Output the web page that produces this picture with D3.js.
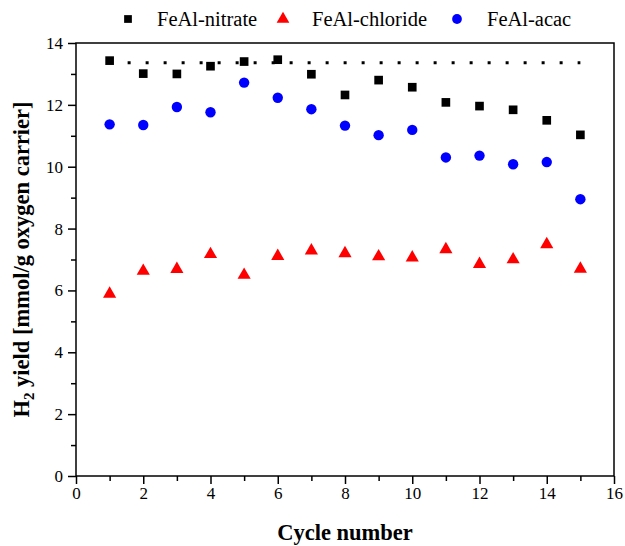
<!DOCTYPE html>
<html>
<head>
<meta charset="utf-8">
<script src="https://cdn.jsdelivr.net/npm/d3@7"></script>
<style>
  body { margin: 0; background: #fff; }
  text { font-family: "Liberation Serif", "Times New Roman", serif; }
</style>
</head>
<body>
<div id="chart"></div>
<script>
// Data
const cycles = [1, 2, 3, 4, 5, 6, 7, 8, 9, 10, 11, 12, 13, 14, 15];
const nitrate = [13.43, 13.01, 13.0, 13.25, 13.4, 13.46, 12.99, 12.32, 12.8, 12.57, 12.08, 11.96, 11.84, 11.5, 11.03];
const chloride = [5.92, 6.66, 6.72, 7.2, 6.53, 7.14, 7.32, 7.23, 7.13, 7.09, 7.36, 6.88, 7.03, 7.52, 6.73];
const acac = [11.37, 11.35, 11.93, 11.76, 12.72, 12.23, 11.86, 11.33, 11.02, 11.19, 10.3, 10.36, 10.08, 10.15, 8.95];
const refLine = [[1, 13.36], [15, 13.36]];
const xTicks = [0, 2, 4, 6, 8, 10, 12, 14, 16];
const yTicks = [0, 2, 4, 6, 8, 10, 12, 14];
const seriesNames = ['FeAl-nitrate', 'FeAl-chloride', 'FeAl-acac'];

const width = 625;
const height = 546;
const margin = { top: 43, right: 11, bottom: 70, left: 76 };

const svg = d3.select('#chart')
  .append('svg')
  .attr('width', width)
  .attr('height', height);

const x = d3.scaleLinear()
  .domain([0, 16])
  .range([margin.left, width - margin.right]);

const y = d3.scaleLinear()
  .domain([0, 14])
  .range([height - margin.bottom, margin.top]);

// Frame
svg.append('rect')
  .attr('x', x(0))
  .attr('y', y(14))
  .attr('width', x(16) - x(0))
  .attr('height', y(0) - y(14))
  .attr('fill', 'none')
  .attr('stroke', '#000')
  .attr('stroke-width', 1.5);

// Minor ticks
const xAxisMinor = d3.axisBottom(x).tickValues(d3.range(1, 16, 2)).tickSize(5).tickFormat('');
const yAxisMinor = d3.axisLeft(y).tickValues(d3.range(1, 14, 2)).tickSize(5).tickFormat('');

svg.append('g')
  .attr('transform', `translate(0,${y(0)})`)
  .call(xAxisMinor)
  .call(g => g.select('.domain').remove())
  .selectAll('line').attr('stroke-width', 1.5);

svg.append('g')
  .attr('transform', `translate(${x(0)},0)`)
  .call(yAxisMinor)
  .call(g => g.select('.domain').remove())
  .selectAll('line').attr('stroke-width', 1.5);

// Major ticks
const xAxis = d3.axisBottom(x).tickValues(xTicks).tickSize(8).tickPadding(3);
const yAxis = d3.axisLeft(y).tickValues(yTicks).tickSize(8).tickPadding(5);

const gx = svg.append('g')
  .attr('transform', `translate(0,${y(0)})`)
  .call(xAxis);
gx.select('.domain').remove();
gx.selectAll('line').attr('stroke-width', 1.5);
gx.selectAll('text')
  .attr('font-size', 17)
  .attr('font-family', '"Liberation Serif", serif')
  .attr('fill', '#000');

const gy = svg.append('g')
  .attr('transform', `translate(${x(0)},0)`)
  .call(yAxis);
gy.select('.domain').remove();
gy.selectAll('line').attr('stroke-width', 1.5);
gy.selectAll('text')
  .attr('font-size', 17)
  .attr('font-family', '"Liberation Serif", serif')
  .attr('fill', '#000');

// Axis titles
svg.append('text')
  .attr('x', (x(0) + x(16)) / 2)
  .attr('y', 540)
  .attr('text-anchor', 'middle')
  .attr('font-size', 22.5)
  .attr('font-weight', 'bold')
  .text('Cycle number');

const yTitle = svg.append('text')
  .attr('transform', `translate(29,${(y(0) + y(14)) / 2}) rotate(-90)`)
  .attr('text-anchor', 'middle')
  .attr('font-size', 22.5)
  .attr('font-weight', 'bold');
yTitle.append('tspan').text('H');
yTitle.append('tspan').attr('font-size', 15).attr('dy', 5).text('2');
yTitle.append('tspan').attr('dy', -5).text(' yield [mmol/g oxygen carrier]');

// Dotted reference line
svg.append('path')
  .datum(refLine)
  .attr('d', d3.line().x(d => x(d[0])).y(d => y(d[1])))
  .attr('fill', 'none')
  .attr('stroke', '#000')
  .attr('stroke-width', 3)
  .attr('stroke-dasharray', '3,15');

// Symbols
const square = d3.symbol().type(d3.symbolSquare).size(75);
const triangle = d3.symbol().type(d3.symbolTriangle).size(75);
const circle = d3.symbol().type(d3.symbolCircle).size(85);

svg.append('g').selectAll('path')
  .data(cycles)
  .enter()
  .append('path')
  .attr('d', square)
  .attr('transform', (d, i) => `translate(${x(d)},${y(nitrate[i])})`)
  .attr('fill', '#000');

svg.append('g').selectAll('path')
  .data(cycles)
  .enter()
  .append('path')
  .attr('d', triangle)
  .attr('transform', (d, i) => `translate(${x(d)},${y(chloride[i]) + 1})`)
  .attr('fill', '#ff0000');

svg.append('g').selectAll('path')
  .data(cycles)
  .enter()
  .append('path')
  .attr('d', circle)
  .attr('transform', (d, i) => `translate(${x(d)},${y(acac[i])})`)
  .attr('fill', '#0000ff');

// Legend
const legendX = [128, 283, 457];
const legendSymbols = [
  d3.symbol().type(d3.symbolSquare).size(60),
  d3.symbol().type(d3.symbolTriangle).size(70),
  d3.symbol().type(d3.symbolCircle).size(75)
];
const legendColors = ['#000', '#ff0000', '#0000ff'];

const legend = svg.append('g').selectAll('g')
  .data(seriesNames)
  .enter()
  .append('g')
  .attr('transform', (d, i) => `translate(${legendX[i]},19)`);

legend.append('path')
  .attr('d', (d, i) => legendSymbols[i]())
  .attr('fill', (d, i) => legendColors[i]);

legend.append('text')
  .attr('x', (d, i) => [29, 29, 30][i])
  .attr('y', 7)
  .attr('font-size', 20.5)
  .text(d => d);
</script>
</body>
</html>
